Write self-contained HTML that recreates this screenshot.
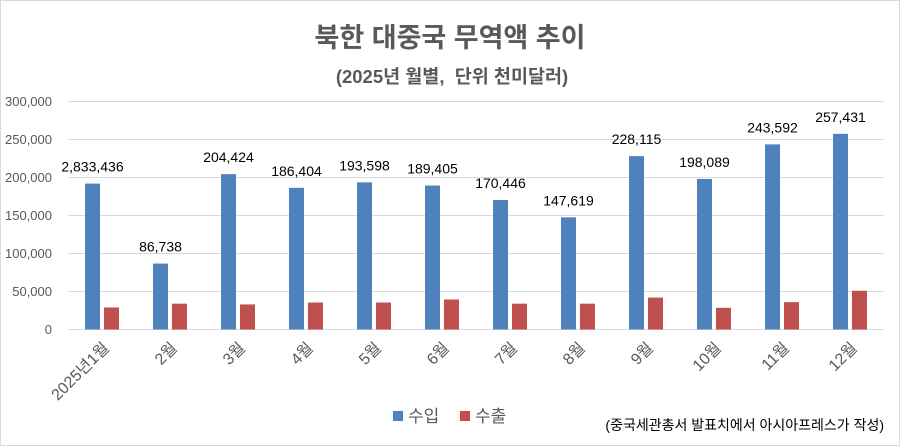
<!DOCTYPE html>
<html><head><meta charset="utf-8"><style>
body{margin:0;background:#fff}
svg{display:block;font-family:"Liberation Sans","Noto Sans CJK KR",sans-serif}
</style></head><body>
<svg width="900" height="446" viewBox="0 0 900 446">
<rect x="0.5" y="0.5" width="899" height="445" fill="#fff" stroke="#d9d9d9"/>
<text x="450" y="47" text-anchor="middle" font-size="27" font-weight="bold" fill="#595959">북한 대중국 무역액 추이</text>
<text x="452" y="83" text-anchor="middle" font-size="18.5" font-weight="bold" fill="#595959" xml:space="preserve">(2025년 월별,  단위 천미달러)</text>
<g stroke="#d9d9d9" stroke-width="1">
<line x1="68" x2="884" y1="101.5" y2="101.5"/><line x1="68" x2="884" y1="139.5" y2="139.5"/>
<line x1="68" x2="884" y1="177.5" y2="177.5"/><line x1="68" x2="884" y1="215.5" y2="215.5"/>
<line x1="68" x2="884" y1="253.5" y2="253.5"/><line x1="68" x2="884" y1="291.5" y2="291.5"/>
<line x1="68" x2="884" y1="329.5" y2="329.5"/>
</g>
<g font-size="13" fill="#595959" text-anchor="end">
<text x="52" y="106">300,000</text><text x="52" y="144">250,000</text><text x="52" y="182">200,000</text>
<text x="52" y="220">150,000</text><text x="52" y="258">100,000</text><text x="52" y="296">50,000</text><text x="52" y="334">0</text>
</g>
<g id="bars"></g>
<g font-size="14" fill="#000" text-anchor="middle" id="lbl"></g>
<g font-size="16" fill="#595959" text-anchor="end" id="xl"></g>
<rect x="393" y="411" width="10" height="10" fill="#4f81bd"/>
<text x="408" y="422" font-size="17" fill="#595959">수입</text>
<rect x="460" y="411" width="10" height="10" fill="#c0504d"/>
<text x="475" y="422" font-size="17" fill="#595959">수출</text>
<text x="884" y="430" text-anchor="end" font-size="14" fill="#000">(중국세관총서 발표치에서 아시아프레스가 작성)</text>
</svg>
<script>
var b=[192000,86738,204424,186404,193598,189405,170446,147619,228115,198089,243592,257431];
var r=[29000,34000,33000,35500,35500,39500,34000,34000,42000,28500,36000,51000];
var L=["2,833,436","86,738","204,424","186,404","193,598","189,405","170,446","147,619","228,115","198,089","243,592","257,431"];
var X=["2025년1월","2월","3월","4월","5월","6월","7월","8월","9월","10월","11월","12월"];
var ns="http://www.w3.org/2000/svg",k=0.76,g=document.getElementById("bars"),lg=document.getElementById("lbl"),xg=document.getElementById("xl");
function el(t,a,p,txt){var e=document.createElementNS(ns,t);for(var i in a)e.setAttribute(i,a[i]);if(txt)e.textContent=txt;p.appendChild(e);return e;}
for(var i=0;i<12;i++){var x=85+i*68;
var h=b[i]/1000*k;el("rect",{x:x,y:329.5-h,width:15,height:h,fill:"#4f81bd"},g);
var h2=r[i]/1000*k;el("rect",{x:x+19,y:329.5-h2,width:15,height:h2,fill:"#c0504d"},g);
el("text",{x:x+7.5,y:329.5-h-12},lg,L[i]);
var cx=x+17+8,cy=349;el("text",{x:cx,y:cy,transform:"rotate(-45 "+cx+" "+cy+")"},xg,X[i]);}
</script>
</body></html>
